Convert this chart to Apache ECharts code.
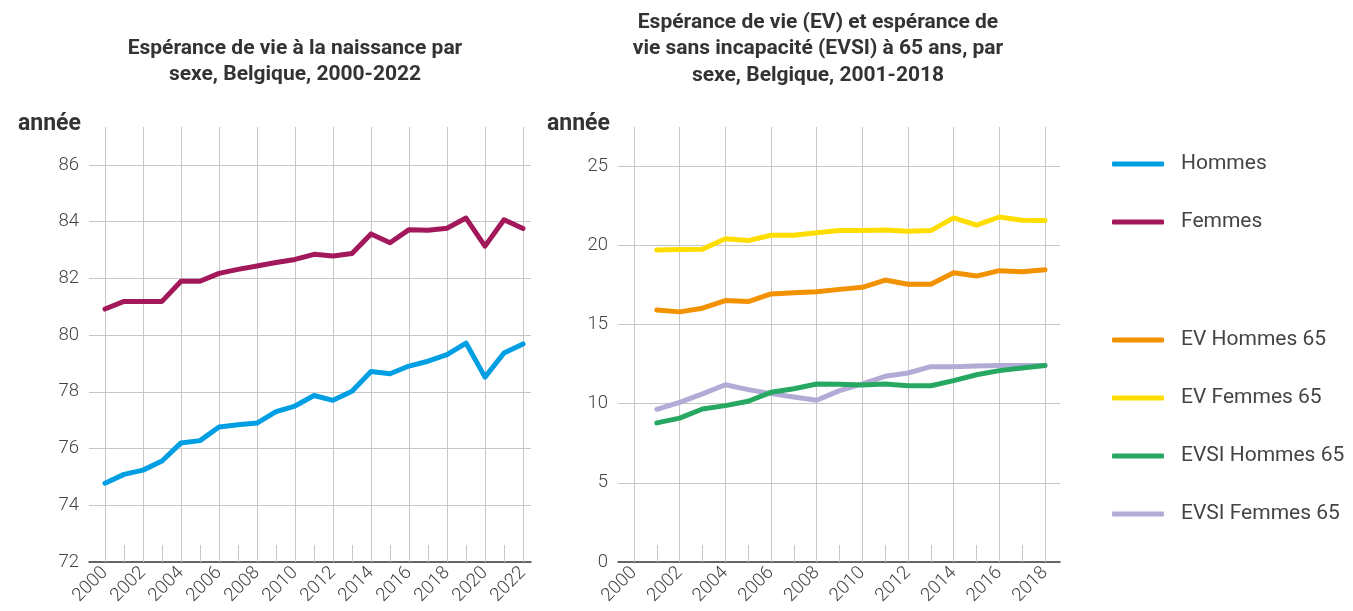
<!DOCTYPE html>
<html>
<head>
<meta charset="utf-8">
<script src="https://cdn.jsdelivr.net/npm/echarts@6/dist/echarts.min.js"></script>
<style>
html,body{margin:0;padding:0;background:#fff;}
#chart{width:1353px;height:611px;}
</style>
</head>
<body>
<div id="chart"></div>
<script>
// ---- Data ----
const years1 = ['2000','2001','2002','2003','2004','2005','2006','2007','2008','2009','2010','2011','2012','2013','2014','2015','2016','2017','2018','2019','2020','2021','2022'];
const hommes = [74.78,75.09,75.24,75.56,76.20,76.28,76.76,76.84,76.90,77.30,77.50,77.87,77.70,78.02,78.72,78.64,78.91,79.08,79.31,79.72,78.52,79.37,79.69];
const femmes = [80.92,81.19,81.19,81.19,81.90,81.90,82.18,82.32,82.44,82.56,82.67,82.85,82.79,82.88,83.57,83.26,83.72,83.70,83.77,84.13,83.14,84.07,83.76];

const years2 = ['2000','2001','2002','2003','2004','2005','2006','2007','2008','2009','2010','2011','2012','2013','2014','2015','2016','2017','2018'];
const evHommes65 = [null,15.91,15.79,16.02,16.50,16.44,16.92,17.00,17.06,17.21,17.34,17.80,17.53,17.53,18.26,18.05,18.39,18.32,18.45];
const evFemmes65 = [null,19.69,19.73,19.75,20.40,20.29,20.63,20.63,20.78,20.92,20.92,20.96,20.88,20.92,21.72,21.26,21.78,21.57,21.55];
const evsiHommes65 = [null,8.78,9.08,9.66,9.87,10.15,10.71,10.94,11.24,11.22,11.17,11.24,11.13,11.13,11.45,11.82,12.08,12.24,12.41];
const evsiFemmes65 = [null,9.64,10.08,10.61,11.19,10.88,10.63,10.42,10.21,10.82,11.24,11.72,11.93,12.33,12.33,12.37,12.41,12.41,12.41];

const leftY = {min: 72, max: 87.34, interval: 2};
const rightY = {min: 0, max: 27.46, interval: 5};

// ---- Styles ----
const FONT = 'Roboto';
const gridColor = '#c6c6c6';
const textColor = '#444';
const colors = {
  hommes: '#009fe3', femmes: '#a2185b',
  evH: '#f39200', evF: '#ffdd00', evsiH: '#27a862', evsiF: '#b3aad6'
};

function dataXAxis(gridIndex, data) {
  return {
    gridIndex, type: 'category', data, boundaryGap: false,
    axisLine: {show: false},
    axisTick: {show: true, inside: true, length: 17, interval: 0, lineStyle: {color: gridColor, width: 1}},
    splitLine: {show: true, interval: 1, lineStyle: {color: gridColor, width: 1}},
    axisLabel: {interval: 1, rotate: 45, margin: 8, color: textColor, fontFamily: FONT, fontSize: 18.5, fontWeight: 300}
  };
}
function frameXAxis(gridIndex) {
  return {
    gridIndex, type: 'value', min: 0, max: 1,
    axisLine: {show: true, onZero: false, lineStyle: {color: '#333', width: 1.5}},
    axisTick: {show: false}, axisLabel: {show: false}, splitLine: {show: false}
  };
}
function frameYAxis(gridIndex, y) {
  return {
    gridIndex, type: 'value', min: y.min, max: y.max, interval: y.interval,
    axisLine: {show: false}, axisTick: {show: false},
    splitLine: {show: true, showMaxLine: false, showMinLine: false, lineStyle: {color: gridColor, width: 1}},
    axisLabel: {showMaxLabel: false, margin: 10, padding: [0, 0, 5, 0], color: textColor, fontFamily: FONT, fontSize: 18.5, fontWeight: 300}
  };
}
function hiddenYAxis(gridIndex, y) {
  return {gridIndex, type: 'value', min: y.min, max: y.max, show: false};
}
function lineSeries(name, data, color, xi, yi) {
  return {
    name, type: 'line', data, xAxisIndex: xi, yAxisIndex: yi,
    symbol: 'none', showSymbol: false, connectNulls: false,
    lineStyle: {color, width: 5, cap: 'round', join: 'round'},
    itemStyle: {color}
  };
}

const chart = echarts.init(document.getElementById('chart'), null, {renderer: 'canvas'});
const titleStyle = {fontFamily: FONT, fontWeight: 'bold', fontSize: 21, color: '#333', lineHeight: 26.5};
const nameStyle = {fontFamily: FONT, fontWeight: 'bold', fontSize: 23, color: '#333'};
const legendText = {fontFamily: FONT, fontSize: 21, color: textColor, lineHeight: 22, padding: [0, 0, 0, 12]};

chart.setOption({
  backgroundColor: '#fff',
  animation: false,
  title: [
    {text: 'Espérance de vie à la naissance par\nsexe, Belgique, 2000-2022', left: 290, top: 30, textAlign: 'center', textStyle: titleStyle},
    {text: 'Espérance de vie (EV) et espérance de\nvie sans incapacité (EVSI) à 65 ans, par\nsexe, Belgique, 2001-2018', left: 813, top: 4, textAlign: 'center', textStyle: titleStyle},
    {text: 'année', left: 13, top: 108, textStyle: nameStyle},
    {text: 'année', left: 542, top: 108, textStyle: nameStyle}
  ],
  legend: [
    {data: ['Hommes', 'Femmes'], orient: 'vertical', left: 1107, top: 148,
     icon: 'roundRect', itemWidth: 52, itemHeight: 5, itemGap: 36, textStyle: legendText},
    {data: ['EV Hommes 65', 'EV Femmes 65', 'EVSI Hommes 65', 'EVSI Femmes 65'], orient: 'vertical', left: 1107, top: 324,
     icon: 'roundRect', itemWidth: 52, itemHeight: 5, itemGap: 36, textStyle: legendText}
  ],
  grid: [
    {left: 105, right: 830, top: 127, bottom: 49},
    {left: 89, right: 822, top: 127, bottom: 49},
    {left: 634, right: 308, top: 127, bottom: 49},
    {left: 618, right: 293, top: 127, bottom: 49}
  ],
  xAxis: [
    dataXAxis(0, years1),
    frameXAxis(1),
    dataXAxis(2, years2),
    frameXAxis(3)
  ],
  yAxis: [
    hiddenYAxis(0, leftY),
    frameYAxis(1, leftY),
    hiddenYAxis(2, rightY),
    frameYAxis(3, rightY)
  ],
  series: [
    lineSeries('Hommes', hommes, colors.hommes, 0, 0),
    lineSeries('Femmes', femmes, colors.femmes, 0, 0),
    lineSeries('EV Hommes 65', evHommes65, colors.evH, 2, 2),
    lineSeries('EV Femmes 65', evFemmes65, colors.evF, 2, 2),
    lineSeries('EVSI Femmes 65', evsiFemmes65, colors.evsiF, 2, 2),
    lineSeries('EVSI Hommes 65', evsiHommes65, colors.evsiH, 2, 2)
  ]
});
</script>
</body>
</html>
